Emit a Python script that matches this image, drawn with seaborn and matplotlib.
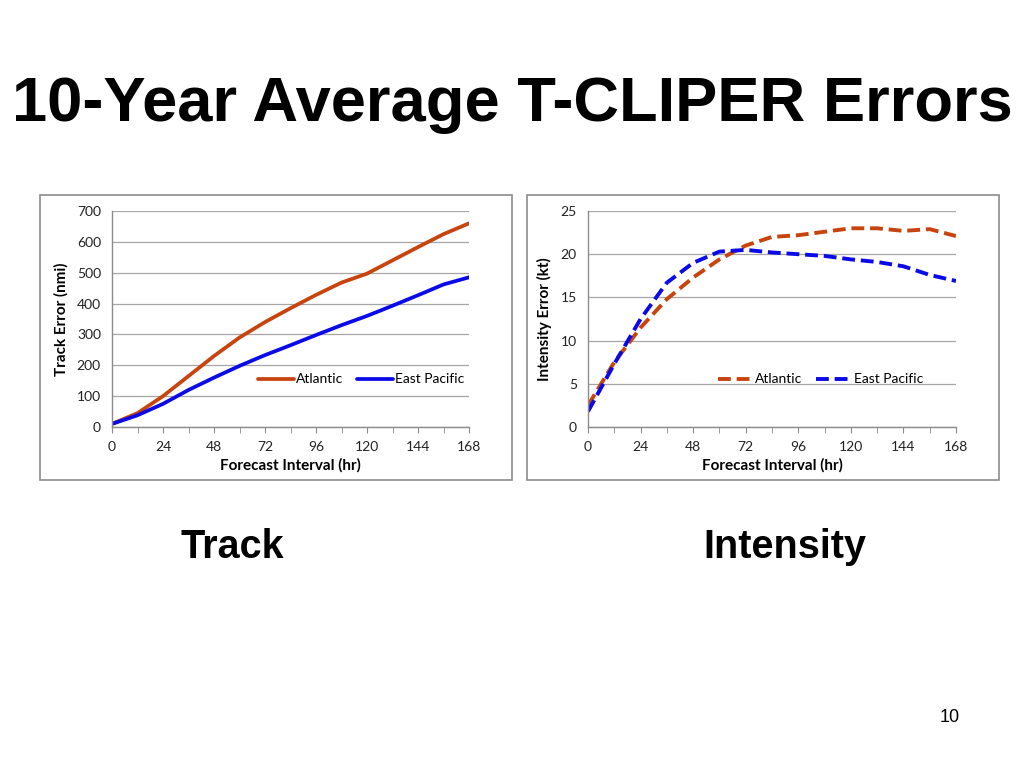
import seaborn as sns
import matplotlib.pyplot as plt
import pandas as pd
from matplotlib.patches import Rectangle
from matplotlib.ticker import MultipleLocator

# Forecast hours (every 12 h)
hours = [0, 12, 24, 36, 48, 60, 72, 84, 96, 108, 120, 132, 144, 156, 168]

# Track error (nmi)
track_atl = [10, 45, 100, 165, 230, 290, 340, 385, 428, 468, 497, 540, 583, 625, 660]
track_ep = [10, 38, 75, 120, 160, 198, 233, 265, 298, 330, 360, 393, 427, 462, 485]

# Intensity error (kt)
int_atl = [2.5, 7.5, 11.5, 14.8, 17.3, 19.4, 21.0, 22.0, 22.2, 22.6, 23.0, 23.0, 22.7, 22.9, 22.1]
int_ep = [1.8, 7.3, 12.5, 16.7, 19.0, 20.3, 20.5, 20.2, 20.0, 19.8, 19.4, 19.1, 18.6, 17.6, 16.9]

basins = ["Atlantic", "East Pacific"]
colors = {"Atlantic": "#c8440e", "East Pacific": "#0a0ae8"}

def long_df(a, b):
    return pd.DataFrame({
        "hour": hours * 2,
        "value": a + b,
        "basin": [basins[0]] * len(hours) + [basins[1]] * len(hours),
    })

sns.set_style("white")
plt.rcParams["font.family"] = ["Lato", "DejaVu Sans"]
plt.rcParams["text.color"] = "black"
plt.rcParams["axes.labelcolor"] = "black"
plt.rcParams["xtick.labelcolor"] = "#222222"
plt.rcParams["ytick.labelcolor"] = "#222222"

fig = plt.figure(figsize=(10.24, 7.68), dpi=100)
W, H = 1024, 768

def fx(px):
    return px / W

def fy(py):
    return 1 - py / H

# panel frames
for x0, x1 in [(40, 512), (527, 999)]:
    fig.add_artist(Rectangle((fx(x0), fy(480)), fx(x1 - x0), (480 - 195) / H,
                             transform=fig.transFigure, fill=False,
                             edgecolor="#8c8c8c", linewidth=1.2))

ax1 = fig.add_axes([fx(112), fy(427), fx(469 - 112), (427 - 211) / H])
ax2 = fig.add_axes([fx(588), fy(427), fx(956 - 588), (427 - 211) / H])

sns.lineplot(data=long_df(track_atl, track_ep), x="hour", y="value", hue="basin",
             palette=colors, linewidth=2.7, ax=ax1)
sns.lineplot(data=long_df(int_atl, int_ep), x="hour", y="value", hue="basin",
             palette=colors, linewidth=2.8, ax=ax2)
for line in ax2.get_lines():
    line.set_dashes([3.3, 1.5])

ax1.set_ylim(0, 700)
ax1.yaxis.set_major_locator(MultipleLocator(100))
ax2.set_ylim(0, 25)
ax2.yaxis.set_major_locator(MultipleLocator(5))

for ax, ylab, lx in [(ax1, "Track Error (nmi)", 0.375), (ax2, "Intensity Error (kt)", 0.318)]:
    ax.set_xlim(0, 168)
    ax.xaxis.set_major_locator(MultipleLocator(24))
    ax.xaxis.set_minor_locator(MultipleLocator(12))
    ax.grid(axis="y", color="#a6a6a6", linewidth=0.9)
    ax.set_axisbelow(True)
    for s in ["top", "right"]:
        ax.spines[s].set_visible(False)
    for s in ["left", "bottom"]:
        ax.spines[s].set_color("#8c8c8c")
        ax.spines[s].set_linewidth(1.0)
    ax.tick_params(axis="x", which="both", direction="out", length=4,
                   color="#8c8c8c", labelsize=10, pad=6, bottom=True)
    ax.tick_params(axis="y", length=0, labelsize=10, pad=8, left=False)
    ax.set_xlabel("Forecast Interval (hr)", fontsize=11, fontweight="bold", labelpad=4)
    ax.set_ylabel(ylab, fontsize=11, fontweight="bold", labelpad=6)
    ax.legend(loc="center left", bbox_to_anchor=(lx, 0.22), ncol=2, frameon=False,
              fontsize=10, handlelength=2.6, handletextpad=0.1, columnspacing=1.0,
              title=None)

title_font = ["Liberation Sans", "DejaVu Sans"]
fig.text(0.5, fy(104), "10-Year Average T-CLIPER Errors", ha="center", va="center",
         fontsize=45.5, fontweight="bold", family=title_font)
fig.text(fx(232), fy(547), "Track", ha="center", va="center", fontsize=28.5,
         fontweight="bold", family=title_font)
fig.text(fx(785), fy(547), "Intensity", ha="center", va="center", fontsize=28.5,
         fontweight="bold", family=title_font)
fig.text(fx(950), fy(717), "10", ha="center", va="center", fontsize=13,
         family=title_font)

fig.savefig("out.png", dpi=100)
